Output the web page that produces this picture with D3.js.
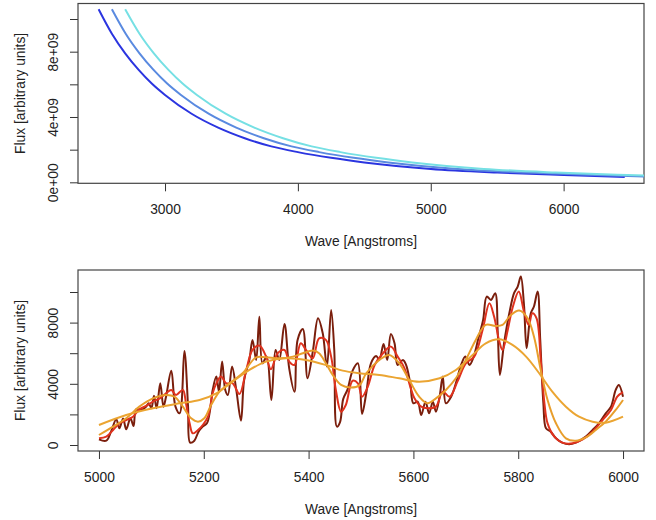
<!DOCTYPE html>
<html>
<head>
<meta charset="utf-8">
<script src="https://cdn.jsdelivr.net/npm/d3@7"></script>
<style>
  body { margin: 0; background: #fff; }
  text { font-family: "Liberation Sans", Arial, sans-serif; fill: #222; }
</style>
</head>
<body>
<div id="chart-area"></div>
<script>
// top panel: the same spectrum at three redshifts
const fluxTop = [10.6e9, 9.1e9, 7.9e9, 6.9e9, 6.05e9, 5.35e9, 4.2e9, 3.35e9, 2.7e9, 2.2e9,
  1.85e9, 1.5e9, 1.22e9, 0.82e9, 0.6e9, 0.45e9, 0.33e9];
const waveZ0 = [2500, 2600, 2700, 2800, 2900, 3000, 3200, 3400, 3600, 3800, 4000, 4250, 4500, 5000, 5500, 6000, 6460];
const waveZ1 = [2600, 2704, 2808, 2912, 3016, 3120, 3328, 3536, 3744, 3952, 4160, 4420, 4680, 5200, 5720, 6240, 6718];
const waveZ2 = [2700, 2808, 2916, 3024, 3132, 3240, 3456, 3672, 3888, 4104, 4320, 4590, 4860, 5400, 5940, 6480, 6977];
const topColors = ['#2b35e0', '#5a8ae0', '#76e0e4'];

const topXTicks = [3000, 4000, 5000, 6000];
const topYTicks = [0, 2e9, 4e9, 6e9, 8e9, 1e10];
const topYLabels = ['0e+00', '', '4e+09', '', '8e+09', ''];

// bottom panel: raw spectrum and three smoothings
const rawWave = [5000, 5014, 5023, 5033, 5039, 5046, 5052, 5060, 5066, 5071, 5081, 5090, 5095, 5100, 5105,
  5110, 5117, 5123, 5128, 5138, 5146, 5154, 5163, 5170, 5174, 5182, 5190, 5198, 5206, 5212, 5217, 5224,
  5229, 5235, 5241, 5246, 5254, 5262, 5271, 5277, 5287, 5293, 5300, 5306, 5312, 5320, 5329, 5337, 5344,
  5354, 5363, 5373, 5379, 5389, 5398, 5408, 5418, 5427, 5435, 5443, 5449, 5454, 5460, 5466, 5474, 5484,
  5494, 5502, 5510, 5519, 5529, 5535, 5543, 5550, 5557, 5564, 5570, 5580, 5586, 5594, 5600, 5608, 5615,
  5623, 5630, 5637, 5643, 5650, 5656, 5662, 5672, 5681, 5691, 5699, 5707, 5715, 5724, 5733, 5740, 5748,
  5756, 5761, 5765, 5773, 5783, 5792, 5799, 5805, 5811, 5816, 5824, 5830, 5837, 5842, 5848, 5853, 5862,
  5872, 5884, 5897, 5910, 5929, 5942, 5954, 5967, 5977, 5986, 5992, 6000];
const rawFlux = [370, 283, 870, 1680, 1090, 1740, 1025, 1744, 1240, 2330, 2290, 2507, 2725, 2400, 3226,
  2400, 4033, 2507, 3160, 4860, 2507, 2071, 6150, 2507, 153, 283, 870, 1200, 1417, 2290, 3600, 4470,
  3490, 5450, 3600, 3270, 5123, 3600, 1590, 4250, 5560, 6870, 5560, 8390, 5340, 5777, 2943, 6213, 5560,
  7913, 5014, 3488, 6870, 7586, 4360, 6104, 8284, 7303, 5123, 8830, 6213, 1200, 1500, 3000, 3600, 4860,
  5340, 2030, 3380, 5340, 5820, 5560, 6600, 5560, 7260, 6650, 5230, 5560, 5230, 4030, 2725, 2834, 1960,
  2834, 2070, 2834, 2180, 3160, 4470, 2725, 3160, 4030, 5230, 5777, 5230, 5777, 6976, 8175, 9700, 9480,
  9920, 7300, 4580, 6650, 8611, 9920, 10355, 11010, 9156, 6322, 8611, 9050, 10030, 6870, 2725, 1090, 872,
  436, 153, 44, 153, 545, 980, 1417, 2071, 2507, 3600, 3924, 3160];

const smooth1Wave = [5000, 5014, 5027, 5039, 5052, 5065, 5077, 5090, 5103, 5116, 5128, 5138, 5147, 5160,
  5166, 5173, 5179, 5189, 5198, 5208, 5217, 5224, 5233, 5243, 5255, 5268, 5281, 5293, 5306, 5319, 5328,
  5341, 5354, 5363, 5373, 5385, 5395, 5408, 5420, 5433, 5443, 5452, 5462, 5471, 5484, 5494, 5502, 5513,
  5526, 5542, 5557, 5570, 5583, 5594, 5602, 5615, 5627, 5643, 5656, 5669, 5684, 5700, 5716, 5732, 5745,
  5754, 5764, 5770, 5780, 5789, 5801, 5811, 5820, 5827, 5835, 5843, 5850, 5856, 5869, 5884, 5904, 5923,
  5942, 5961, 5977, 5989, 6000];
const smooth1Flux = [436, 545, 980, 1417, 1635, 1850, 2330, 2550, 2834, 3050, 3380, 3600, 3270, 3600,
  2725, 1417, 763, 980, 1308, 1850, 3380, 4030, 4470, 4030, 4030, 3335, 4905, 6213, 6500, 5777, 4950,
  5995, 6213, 5450, 5230, 6650, 6213, 5670, 6976, 6870, 5777, 3600, 2180, 2616, 4200, 4030, 3160, 3815,
  5230, 5995, 6430, 5777, 5014, 3815, 3050, 2507, 2400, 2507, 3490, 3160, 4140, 5340, 5777, 7520, 9265,
  8390, 6760, 6213, 7520, 8940, 10030, 8720, 7850, 8611, 8280, 5560, 2725, 1417, 545, 153, 109, 370,
  872, 1635, 2290, 3160, 3450];

const smooth2Wave = [5000, 5027, 5052, 5077, 5103, 5128, 5144, 5160, 5176, 5189, 5201, 5214, 5230, 5249,
  5274, 5300, 5319, 5344, 5370, 5389, 5408, 5420, 5433, 5446, 5462, 5480, 5497, 5510, 5535, 5554, 5573,
  5592, 5611, 5627, 5643, 5662, 5681, 5700, 5719, 5738, 5757, 5770, 5786, 5802, 5818, 5830, 5843, 5856,
  5872, 5891, 5910, 5929, 5948, 5967, 5986, 6000];
const smooth2Flux = [654, 1200, 1744, 2507, 3050, 3270, 3160, 2507, 1744, 1526, 1744, 2616, 3490, 4030,
  4690, 5733, 5733, 5670, 5777, 5995, 6170, 5995, 5340, 4580, 3924, 3760, 3900, 4690, 5560, 5886, 5340,
  4250, 3160, 2725, 3050, 3600, 4360, 5560, 6870, 7850, 7780, 7850, 8500, 8785, 8280, 7085, 4905, 2943,
  1417, 436, 283, 500, 980, 1526, 2290, 2943];

const smooth3Wave = [5000, 5052, 5103, 5154, 5192, 5224, 5255, 5287, 5319, 5357, 5395, 5433, 5465, 5497,
  5535, 5573, 5611, 5650, 5681, 5713, 5738, 5764, 5789, 5815, 5840, 5865, 5891, 5916, 5942, 5967, 6000];
const smooth3Flux = [1308, 1962, 2400, 2725, 2943, 3380, 4140, 4905, 5450, 5670, 5560, 5230, 4860, 4690,
  4580, 4360, 4140, 4360, 4905, 5886, 6650, 6910, 6540, 5777, 4690, 3490, 2507, 1850, 1526, 1460, 1850];

const botColors = ['#7a1e0c', '#e0321e', '#e89e2c', '#eba532'];

const botXTicks = [5000, 5200, 5400, 5600, 5800, 6000];
const botYTicks = [0, 2000, 4000, 6000, 8000, 10000];
const botYLabels = ['0', '', '4000', '', '8000', ''];

const W = 656, H = 520;
const svg = d3.select('#chart-area').append('svg')
  .attr('width', W)
  .attr('height', H);

function panel(id, box, xDomain, yDomain, xTicks, yTicks, yLabels, curve) {
  const x = d3.scaleLinear().domain(xDomain).range([box.l, box.r]);
  const y = d3.scaleLinear().domain(yDomain).range([box.b, box.t]);

  svg.append('clipPath').attr('id', id)
    .append('rect')
    .attr('x', box.l).attr('y', box.t)
    .attr('width', box.r - box.l).attr('height', box.b - box.t);

  const xAxis = svg.append('g')
    .attr('transform', `translate(0,${box.b})`)
    .call(d3.axisBottom(x).tickValues(xTicks).tickSize(8).tickPadding(13).tickFormat(d3.format('d')));
  const yAxis = svg.append('g')
    .attr('transform', `translate(${box.l},0)`)
    .call(d3.axisLeft(y).tickValues(yTicks).tickSize(8).tickFormat((d, i) => yLabels[i]));

  [xAxis, yAxis].forEach((g) => {
    g.select('.domain').remove();
    g.selectAll('line').attr('stroke', '#333');
    g.selectAll('text').style('font-size', '13.8px').attr('fill', '#222');
  });
  yAxis.selectAll('text')
    .attr('x', 0)
    .attr('y', -25)
    .attr('dy', '0.35em')
    .attr('text-anchor', 'middle')
    .attr('transform', 'rotate(-90)');

  svg.append('rect')
    .attr('x', box.l).attr('y', box.t)
    .attr('width', box.r - box.l).attr('height', box.b - box.t)
    .attr('fill', 'none')
    .attr('stroke', '#444')
    .attr('stroke-width', 1.2);

  svg.append('text')
    .attr('x', (box.l + box.r) / 2)
    .attr('y', box.b + 63)
    .attr('text-anchor', 'middle')
    .style('font-size', '13.8px')
    .text('Wave [Angstroms]');

  svg.append('text')
    .attr('transform', `translate(25,${(box.t + box.b) / 2}) rotate(-90)`)
    .attr('text-anchor', 'middle')
    .style('font-size', '13.8px')
    .text('Flux [arbitrary units]');

  const line = d3.line()
    .x((d) => x(d[0]))
    .y((d) => y(d[1]))
    .curve(curve);

  return (waves, fluxes, color) => {
    svg.append('path')
      .datum(waves.map((w, i) => [w, fluxes[i]]))
      .attr('clip-path', `url(#${id})`)
      .attr('d', line)
      .attr('fill', 'none')
      .attr('stroke', color)
      .attr('stroke-width', 2)
      .attr('stroke-linejoin', 'round');
  };
}

const drawTop = panel('clip-top', { l: 78, r: 644, t: 3.5, b: 183.3 },
  [2345, 6605], [-0.06e9, 10.95e9], topXTicks, topYTicks, topYLabels, d3.curveMonotoneX);
drawTop(waveZ0, fluxTop, topColors[0]);
drawTop(waveZ1, fluxTop, topColors[1]);
drawTop(waveZ2, fluxTop, topColors[2]);

const drawBot = panel('clip-bot', { l: 78, r: 644, t: 270, b: 451 },
  [4960, 6040], [-392, 11438], botXTicks, botYTicks, botYLabels, d3.curveCatmullRom.alpha(0.5));
drawBot(rawWave, rawFlux, botColors[0]);
drawBot(smooth1Wave, smooth1Flux, botColors[1]);
drawBot(smooth2Wave, smooth2Flux, botColors[2]);
drawBot(smooth3Wave, smooth3Flux, botColors[3]);
</script>
</body>
</html>
